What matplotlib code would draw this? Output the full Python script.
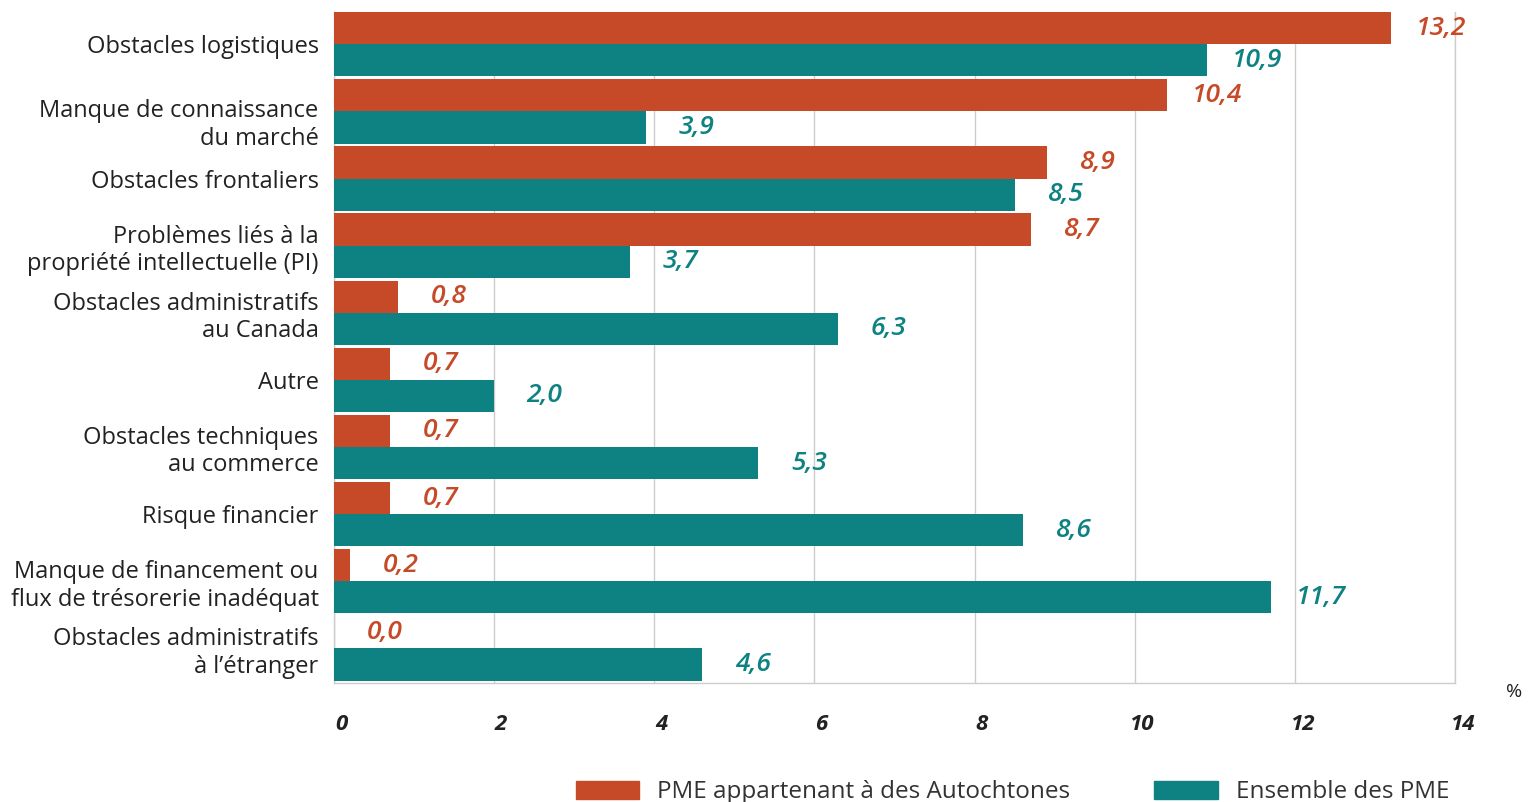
import numpy as np
import matplotlib.pyplot as plt
from matplotlib.patches import Patch
from matplotlib.transforms import ScaledTranslation

# Data
categories = [
    "Obstacles logistiques",
    "Manque de connaissance\ndu marché",
    "Obstacles frontaliers",
    "Problèmes liés à la\npropriété intellectuelle (PI)",
    "Obstacles administratifs\nau Canada",
    "Autre",
    "Obstacles techniques\nau commerce",
    "Risque financier",
    "Manque de financement ou\nflux de trésorerie inadéquat",
    "Obstacles administratifs\nà l’étranger",
]
autochtones = [13.2, 10.4, 8.9, 8.7, 0.8, 0.7, 0.7, 0.7, 0.2, 0.0]
ensemble = [10.9, 3.9, 8.5, 3.7, 6.3, 2.0, 5.3, 8.6, 11.7, 4.6]
series_names = ["PME appartenant à des Autochtones", "Ensemble des PME"]
xticks = [0, 2, 4, 6, 8, 10, 12, 14]

c_orange = "#C64A28"
c_teal = "#0E8282"

plt.rcParams['font.family'] = ['Open Sans', 'Noto Sans', 'DejaVu Sans']

fig = plt.figure(figsize=(15.32, 8.02), dpi=100)
ax = fig.add_axes([0.218, 0.148, 0.7317, 0.837])

n = len(categories)
y = np.arange(n)
h = 0.48
ax.barh(y - h / 2, autochtones, height=h, color=c_orange, zorder=3)
ax.barh(y + h / 2, ensemble, height=h, color=c_teal, zorder=3)

off = 0.63
for i in range(n):
    ax.text(autochtones[i] + off, y[i] - h / 2, f"{autochtones[i]:.1f}".replace(".", ","),
            color=c_orange, fontsize=19, style='italic', fontweight='semibold',
            ha='center', va='center')
    ax.text(ensemble[i] + off, y[i] + h / 2, f"{ensemble[i]:.1f}".replace(".", ","),
            color=c_teal, fontsize=19, style='italic', fontweight='semibold',
            ha='center', va='center')

ax.set_xlim(0, 14)
ax.set_ylim(n - 0.5 + 0.02, -0.5 + 0.02)
ax.set_yticks(y)
ax.set_yticklabels(categories, fontsize=17, color="#222222", linespacing=1.18)
ax.set_xticks(xticks)
ax.set_xticklabels([str(t) for t in xticks], fontsize=16, fontweight='bold',
                   style='italic', color="#222222")
ax.tick_params(axis='y', length=0, pad=11)
ax.tick_params(axis='x', length=0, pad=22)
shift = ScaledTranslation(7 / 100, 0, fig.dpi_scale_trans)
for lab in ax.get_xticklabels():
    lab.set_transform(lab.get_transform() + shift)
# the second label sits a little lower in the original
ylab = ax.get_yticklabels()[1]
ylab.set_transform(ylab.get_transform() + ScaledTranslation(0, -9 / 100, fig.dpi_scale_trans))

ax.grid(axis='x', color="#cccccc", linewidth=1, zorder=0)
for s in ax.spines.values():
    s.set_color("#cccccc")
    s.set_linewidth(1)
ax.spines['top'].set_visible(False)

fig.text(0.9935, 0.137, "%", fontsize=14, color="#222222", ha='right', va='center')

handles = [Patch(color=c_orange), Patch(color=c_teal)]
fig.legend(handles, series_names, loc='center', bbox_to_anchor=(0.661, 0.012),
           ncol=2, frameon=False, fontsize=17.5, handlelength=2.63, handleheight=0.75,
           columnspacing=3.45, handletextpad=0.74, labelcolor="#333333")

fig.savefig("out.png", dpi=100)
